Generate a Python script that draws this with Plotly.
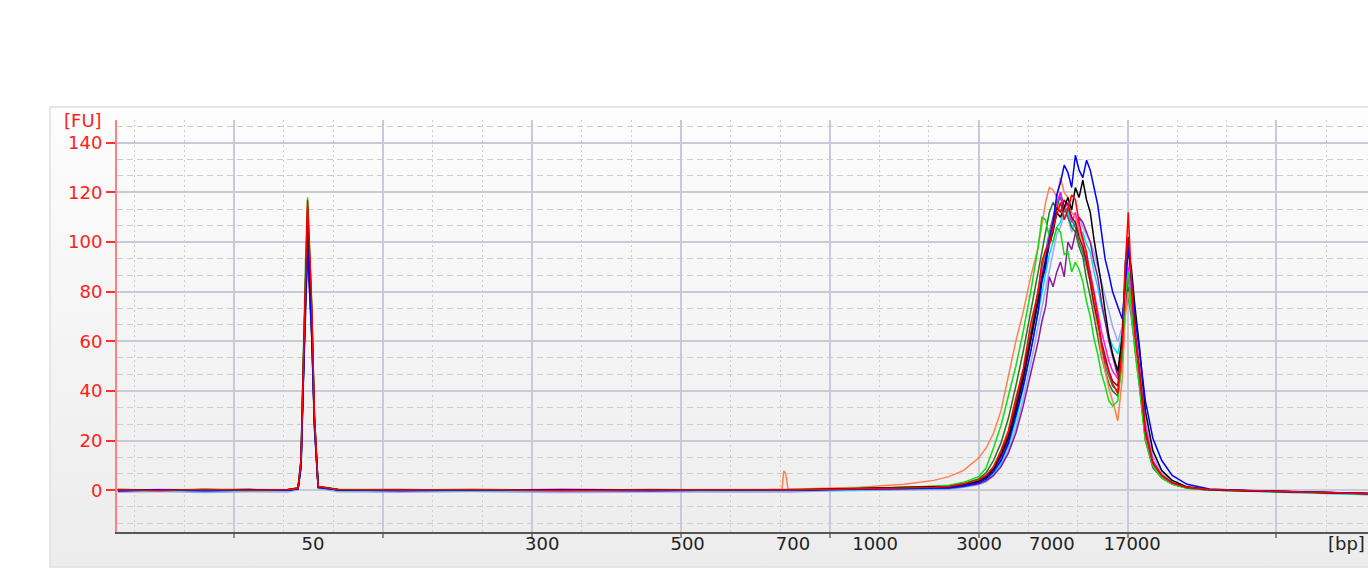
import base64
import plotly.graph_objects as go

# Migration-time grid (s) for the flat region, lower marker and the small 700 bp blip
t_low = [22.2, 25.0, 28.0, 31.0, 33.6, 34.3, 34.5, 34.65, 34.8, 34.94, 35.08, 35.22, 35.4, 35.65,
         37.0, 41.0, 46.0, 52.0, 58.0, 63.0, 66.8, 66.92, 67.05, 67.2, 69.0, 72.0, 75.0, 77.0]
# Migration-time grid (s) for the smear, upper marker and tail
t_main = [78.0, 79.0, 80.0, 80.5, 81.0, 81.5, 82.0, 82.5, 83.0, 83.5,
          84.0, 84.25, 84.5, 84.75, 85.0, 85.25, 85.5, 85.75, 86.0, 86.25, 86.5,
          86.75, 87.0, 87.25, 87.5, 87.75, 88.0, 88.25, 88.5, 88.75, 89.0,
          89.35, 89.65, 89.85, 90.05, 90.25, 90.5, 90.8, 91.2, 91.7, 92.3, 93.0,
          94.0, 95.5, 98.0, 101.0, 104.0, 106.2]

# Fluorescence (FU) per sample
red_low = [0.2, -0.1, 0.3, 0.0, 0.2, 0.8, 12, 52, 90, 117, 96, 74, 30, 1.5, 0.3, 0.1, 0.2, -0.1, 0.1, 0.0, 0.1, 0.1, 0.0, 0.1, 0.3, 0.5, 0.9, 1.2]
red_main = [1.5, 2.6, 4.2, 6.0, 9.5, 16, 24, 37, 49, 67,
            80, 92, 97, 99, 106, 111, 116, 109, 113, 119, 117, 108, 101, 96, 86, 79, 70, 59, 52, 48, 43,
            39, 58, 90, 112, 86, 63, 47, 23, 11, 6, 3, 1.2, 0.3, -0.2, -0.6, -1.0, -1.4]

blue_low = [-0.3, 0.2, -0.2, 0.1, 0.0, 0.6, 10, 44, 76, 98, 82, 62, 27, 1.2, 0.2, -0.2, 0.1, 0.0, -0.2, 0.1, 0.0, -0.1, 0.1, 0.0, 0.2, 0.4, 0.7, 1.0]
blue_main = [1.0, 1.8, 3.0, 4.5, 7.5, 12, 19, 30, 42, 56,
             72, 84, 90, 101, 108, 119, 124, 131, 128, 122, 135, 129, 126, 133, 129, 122, 115, 104, 93, 87, 80,
             74, 69, 83, 98, 86, 70, 56, 36, 21, 12, 6, 2.4, 0.5, -0.1, -0.5, -1.0, -1.3]

green_low = [0.3, 0.0, 0.4, -0.1, 0.3, 1.0, 13, 54, 92, 118, 97, 75, 31, 1.6, 0.4, 0.2, 0.1, 0.2, 0.0, 0.1, 0.2, 0.0, 0.1, 0.2, 0.4, 0.7, 1.2, 1.6]
green_main = [2.0, 3.2, 5.5, 9, 17, 26, 38, 50, 64, 80,
              98, 110, 109, 102, 100, 106, 104, 95, 96, 88, 92, 89, 84, 76, 70, 61, 55, 47, 42, 36, 34,
              36, 55, 78, 88, 72, 56, 42, 20, 10, 5, 2.5, 0.8, 0.1, -0.3, -0.6, -1.1, -1.5]

black_low = [0.1, 0.2, 0.0, 0.3, 0.1, 0.7, 11, 48, 83, 108, 88, 68, 28, 1.4, 0.2, 0.0, 0.2, 0.1, 0.1, -0.1, 0.1, 0.0, 0.2, 0.1, 0.3, 0.6, 1.0, 1.4]
black_main = [1.2, 2.2, 3.6, 5.2, 8.5, 14, 21, 32, 45, 60,
              76, 85, 92, 99, 104, 112, 110, 114, 118, 113, 122, 118, 125, 117, 112, 101, 92, 83, 72, 62, 55,
              48, 62, 86, 96, 90, 74, 58, 32, 16, 8, 4, 1.4, 0.3, -0.2, -0.6, -1.0, -1.3]

coral_low = [0.2, 0.1, 0.2, 0.4, 0.2, 0.9, 12, 50, 86, 112, 92, 71, 29, 1.4, 0.3, 0.2, 0.3, 0.1, 0.2, 0.1, 0.3, 7.8, 6.8, 0.4, 0.6, 1.2, 2.4, 4.0]
coral_main = [5.5, 8, 13, 17, 23, 32, 46, 60, 72, 86,
              98, 108, 116, 122, 121, 118, 126, 120, 118, 112, 110, 104, 100, 91, 84, 73, 66, 55, 48, 41, 36,
              28, 45, 70, 80, 72, 58, 44, 22, 10, 5, 2.5, 1.0, 0.2, -0.2, -0.5, -1.0, -1.2]

magenta_low = [0.0, 0.3, 0.1, 0.2, 0.0, 0.7, 11, 47, 82, 106, 86, 66, 27, 1.3, 0.1, 0.3, 0.0, 0.4, 0.1, 0.2, 0.0, 0.1, 0.2, 0.0, 0.3, 0.5, 0.9, 1.3]
magenta_main = [1.2, 2.0, 3.4, 5.0, 8.0, 13, 20, 31, 44, 60,
                77, 88, 93, 103, 108, 116, 120, 113, 116, 108, 112, 105, 102, 94, 88, 80, 72, 64, 58, 52, 48,
                45, 60, 82, 90, 80, 64, 50, 26, 12, 6, 3, 1.1, 0.2, -0.2, -0.6, -1.0, -1.3]

purple_low = [0.1, -0.1, 0.2, 0.0, 0.1, 0.6, 10, 45, 78, 100, 82, 63, 26, 1.2, 0.2, 0.0, 0.1, -0.1, 0.2, 0.0, 0.1, 0.0, -0.1, 0.1, 0.2, 0.3, 0.6, 0.8]
purple_main = [0.8, 1.5, 2.6, 3.8, 6, 9.5, 15, 23, 34, 47,
               60, 68, 74, 86, 82, 88, 92, 86, 100, 97, 104, 110, 108, 104, 100, 92, 86, 76, 68, 60, 54,
               46, 58, 76, 86, 78, 62, 47, 24, 11, 6, 3, 1.0, 0.2, -0.2, -0.6, -1.0, -1.3]

cyan_low = [-0.4, -0.2, -0.5, -0.3, -0.2, 0.5, 10, 46, 80, 104, 85, 65, 27, 1.0, -0.2, -0.3, -0.4, -0.2, -0.3, -0.4, -0.3, -0.2, -0.4, -0.3, -0.1, 0.2, 0.5, 0.7]
cyan_main = [0.6, 1.4, 2.5, 3.8, 6.5, 11, 18, 28, 41, 56,
             72, 80, 88, 95, 100, 106, 108, 114, 112, 106, 108, 103, 104, 99, 96, 88, 82, 74, 68, 62, 58,
             55, 64, 80, 86, 78, 62, 48, 25, 12, 6, 3, 1.0, 0.1, -0.3, -0.8, -1.3, -1.7]

slate_low = [0.2, 0.1, 0.0, 0.2, 0.1, 0.8, 12, 49, 85, 110, 90, 70, 29, 1.4, 0.1, 0.2, 0.0, 0.1, 0.2, 0.1, 0.0, 0.2, 0.1, 0.0, 0.3, 0.6, 1.1, 1.5]
slate_main = [1.4, 2.4, 3.8, 5.6, 9, 15, 23, 35, 48, 63,
              80, 90, 96, 104, 110, 116, 118, 112, 114, 109, 106, 100, 96, 90, 84, 74, 66, 57, 50, 46, 42,
              40, 54, 72, 78, 70, 56, 42, 20, 9, 5, 2.5, 0.9, 0.1, -0.2, -0.6, -1.0, -1.3]

maroon_low = [0.3, 0.1, 0.2, 0.1, 0.3, 0.9, 12, 51, 88, 114, 94, 72, 30, 1.5, 0.2, 0.1, 0.3, 0.0, 0.1, 0.2, 0.1, 0.0, 0.2, 0.1, 0.3, 0.6, 1.0, 1.4]
maroon_main = [1.3, 2.3, 3.7, 5.5, 9, 14.5, 22, 34, 47, 62,
               78, 86, 94, 101, 106, 114, 112, 117, 115, 110, 108, 102, 98, 92, 84, 75, 68, 60, 54, 48, 44,
               42, 62, 92, 102, 84, 64, 48, 24, 11, 6, 3, 1.1, 0.2, -0.2, -0.6, -1.0, -1.4]

lavender_low = [-0.8, -0.5, -0.9, -0.6, -0.7, 0.2, 9, 44, 78, 102, 83, 64, 26, 0.8, -0.6, -0.8, -0.5, -0.9, -0.7, -0.6, -0.8, -0.5, -0.7, -0.8, -0.4, -0.1, 0.3, 0.5]
lavender_main = [0.4, 1.2, 2.2, 3.4, 5.8, 10, 16, 25, 37, 51,
                 66, 74, 82, 90, 96, 103, 106, 111, 110, 104, 108, 110, 106, 103, 100, 96, 90, 84, 78, 71, 66,
                 60, 66, 80, 84, 78, 64, 50, 28, 14, 7, 3.5, 1.2, 0.1, -0.4, -0.9, -1.4, -1.8]

dkgreen_low = [0.2, 0.0, 0.3, 0.1, 0.2, 0.6, 9, 43, 74, 96, 79, 61, 25, 1.1, 0.2, 0.1, 0.2, 0.0, 0.3, 0.1, 0.0, 0.2, 0.1, 0.0, 0.4, 0.7, 1.1, 1.5]
dkgreen_main = [1.6, 2.8, 4.6, 7, 12, 19, 29, 42, 56, 72,
                88, 97, 104, 112, 116, 113, 120, 114, 110, 106, 104, 98, 94, 85, 78, 70, 62, 54, 48, 43, 40,
                38, 52, 74, 82, 72, 58, 44, 21, 10, 5, 2.5, 0.9, 0.1, -0.3, -0.6, -1.0, -1.4]

# Ladder sizes shown under the time axis
size_pos = [35.3, 50.7, 60.46, 67.54, 73.05, 80.03, 84.92, 90.31]
size_text = ["50", "300", "500", "700", "1000", "3000", "7000", "17000"]

# (name, colour, lower part, main part, axis); both x axes share one range,
# x carries the time grid, x2 the size labels
samples = [
    ("Sample 11", "#a3a3ff", lavender_low, lavender_main, "x"),
    ("Sample 8", "#00e0e8", cyan_low, cyan_main, "x"),
    ("Sample 12", "#1f7a1f", dkgreen_low, dkgreen_main, "x"),
    ("Sample 9", "#4a6e6e", slate_low, slate_main, "x"),
    ("Sample 7", "#8a1a9a", purple_low, purple_main, "x"),
    ("Sample 6", "#ff10ff", magenta_low, magenta_main, "x"),
    ("Sample 5", "#ff8050", coral_low, coral_main, "x2"),
    ("Sample 3", "#10dd10", green_low, green_main, "x2"),
    ("Sample 10", "#8b0a0a", maroon_low, maroon_main, "x2"),
    ("Sample 4", "#000000", black_low, black_main, "x2"),
    ("Sample 2", "#0000ff", blue_low, blue_main, "x2"),
    ("Sample 1", "#ff0000", red_low, red_main, "x2"),
]

FONT = "DejaVu Sans"
X_RANGE = [22.142, 106.15]
Y_RANGE = [-16.8, 149.2]

fig = go.Figure()
for name, color, low, main, xa in samples:
    fig.add_trace(go.Scatter(
        x=t_low + t_main, y=low + main, mode="lines", name=name, xaxis=xa, yaxis="y",
        line=dict(color=color, width=1.5), showlegend=False,
    ))

# Panel background: soft vertical gradient
svg = ('<svg xmlns="http://www.w3.org/2000/svg" width="10" height="100" preserveAspectRatio="none">'
       '<defs><linearGradient id="g" x1="0" y1="0" x2="0" y2="1">'
       '<stop offset="0" stop-color="#fdfdfd"/><stop offset="1" stop-color="#ececec"/>'
       '</linearGradient></defs><rect width="10" height="100" fill="url(#g)"/></svg>')
bg_src = "data:image/svg+xml;base64," + base64.b64encode(svg.encode()).decode()

px_left, px_top, px_bottom = -0.05356, 1.03155, -0.085

fig.update_layout(
    width=1368, height=571,
    margin=dict(l=117, r=0, t=120, b=39),
    paper_bgcolor="white",
    plot_bgcolor="rgba(0,0,0,0)",
    font=dict(family=FONT),
    images=[dict(source=bg_src, xref="paper", yref="paper", x=px_left, y=px_top,
                 sizex=1.06, sizey=px_top - px_bottom, xanchor="left", yanchor="top",
                 sizing="stretch", layer="below")],
    shapes=[dict(type="rect", xref="paper", yref="paper", x0=px_left, x1=1.02,
                 y0=px_bottom, y1=px_top, line=dict(color="#e0e0e0", width=1.5),
                 fillcolor="rgba(0,0,0,0)", layer="below")],
    xaxis=dict(
        range=X_RANGE, tick0=0, dtick=10, showticklabels=False,
        showgrid=True, gridcolor="#c6cbd7", gridwidth=1.5,
        ticks="outside", ticklen=4, tickcolor="#8c8c8c", tickwidth=1.5,
        showline=True, linecolor="#555555", linewidth=1.5, zeroline=False,
        minor=dict(tick0=0, dtick=10 / 3, showgrid=True, gridcolor="#cdcdcd",
                   griddash="2px,3px", gridwidth=1, ticks=""),
    ),
    xaxis2=dict(
        overlaying="x", anchor="y", side="bottom", range=X_RANGE,
        tickmode="array", tickvals=size_pos, ticktext=size_text,
        showgrid=False, ticks="", showline=False, zeroline=False,
        tickfont=dict(family=FONT, size=18, color="#222222"), ticklabelstandoff=-1,
    ),
    yaxis=dict(
        range=Y_RANGE, tickmode="array", tickvals=[0, 20, 40, 60, 80, 100, 120, 140],
        showgrid=True, gridcolor="#c6cbd7", gridwidth=1.5,
        ticks="outside", ticklen=9, tickcolor="#ff3030", tickwidth=1.5,
        tickfont=dict(family=FONT, size=18, color="#ff2020"),
        showline=True, linecolor="#ff8080", linewidth=2, zeroline=False,
        minor=dict(tick0=0, dtick=20 / 3, showgrid=True, gridcolor="#cdcdcd",
                   griddash="6px,4px", gridwidth=1, ticks=""),
    ),
    annotations=[
        dict(text="[FU]", xref="paper", yref="paper", x=-0.0104, y=1.0,
             xanchor="right", yanchor="middle", showarrow=False,
             font=dict(family=FONT, size=18, color="#ff2020")),
        dict(text="[bp]", xref="paper", yref="paper", x=0.9664, y=-0.029,
             xanchor="left", yanchor="middle", showarrow=False,
             font=dict(family=FONT, size=18, color="#222222")),
    ],
)

fig.write_html("out.html")
